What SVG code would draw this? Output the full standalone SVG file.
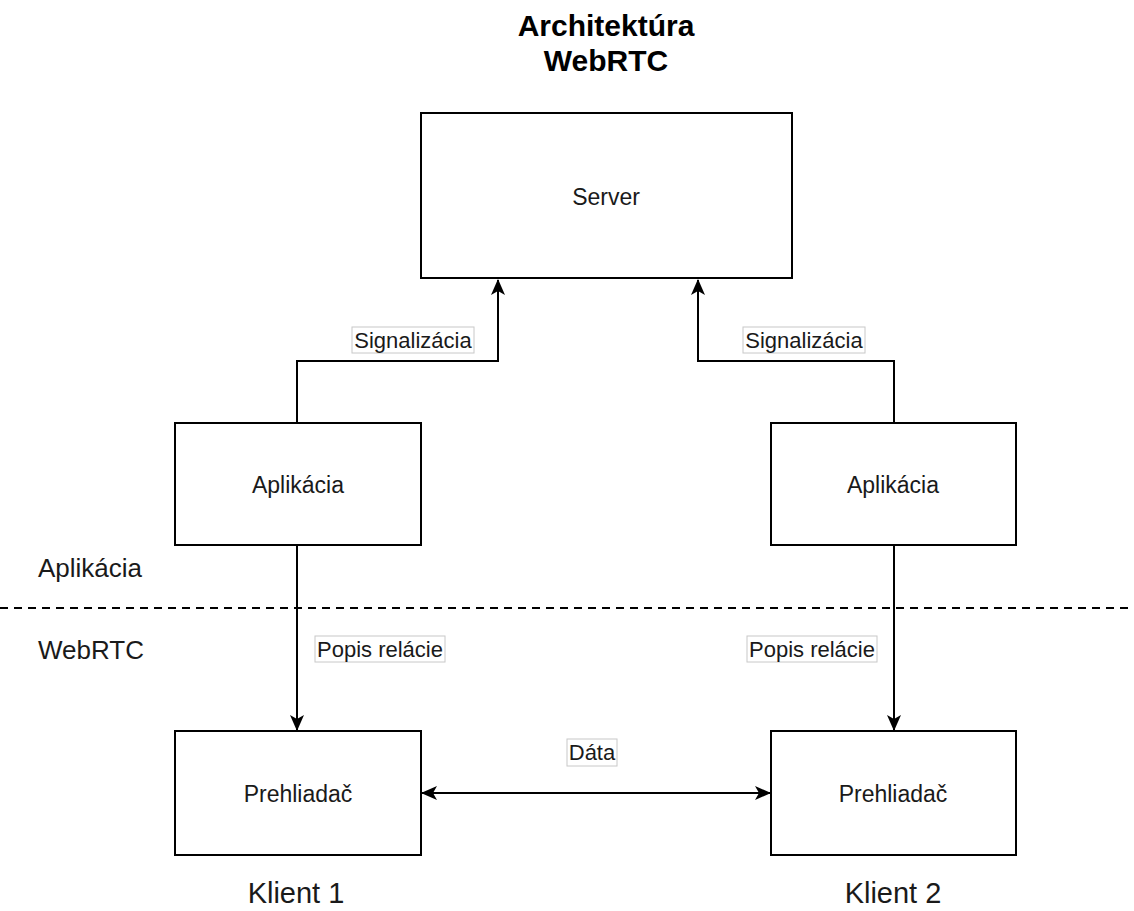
<svg xmlns="http://www.w3.org/2000/svg" width="1134" height="911" viewBox="0 0 1134 911">
  <style>
    .box { fill: #ffffff; stroke: #000000; stroke-width: 2; }
    .lbl { font-family: "Liberation Sans", Arial, sans-serif; font-size: 23px; fill: #1a1a1a; text-anchor: middle; }
    .elbl { font-family: "Liberation Sans", Arial, sans-serif; font-size: 22px; fill: #1a1a1a; text-anchor: middle; }
    .ebg { fill: #ffffff; stroke: #c8c8c8; stroke-width: 1; }
    .side { font-family: "Liberation Sans", Arial, sans-serif; font-size: 26px; fill: #1a1a1a; }
    .client { font-family: "Liberation Sans", Arial, sans-serif; font-size: 29px; fill: #1a1a1a; text-anchor: middle; }
    .title { font-family: "Liberation Sans", Arial, sans-serif; font-size: 30px; font-weight: bold; fill: #000000; text-anchor: middle; }
    .edge { fill: none; stroke: #000000; stroke-width: 2; }
  </style>
  <defs>
    <marker id="arrow" viewBox="0 0 16 14" refX="15" refY="7" markerWidth="16" markerHeight="14" markerUnits="userSpaceOnUse" orient="auto-start-reverse">
      <path d="M0,0 L16,7 L0,14 L4,7 Z" fill="#000000"/>
    </marker>
  </defs>

  <rect width="1134" height="911" fill="#ffffff"/>

  <!-- title -->
  <g id="title">
    <text class="title" x="606" y="36">Architektúra</text>
    <text class="title" x="606" y="71">WebRTC</text>
  </g>

  <!-- layer separator and layer names -->
  <g id="layers">
    <line x1="0" y1="608" x2="1134" y2="608" stroke="#000000" stroke-width="2" stroke-dasharray="8 6"/>
    <text class="side" x="38" y="577">Aplikácia</text>
    <text class="side" x="38" y="659">WebRTC</text>
  </g>

  <!-- connectors -->
  <g id="connectors">
    <path class="edge" d="M297,423 V361 H498 V280" marker-end="url(#arrow)"/>
    <path class="edge" d="M894,423 V361 H698 V280" marker-end="url(#arrow)"/>
    <path class="edge" d="M297,545 V730" marker-end="url(#arrow)"/>
    <path class="edge" d="M894,545 V730" marker-end="url(#arrow)"/>
    <path class="edge" d="M422,793 H770" marker-start="url(#arrow)" marker-end="url(#arrow)"/>

    <rect class="ebg" x="352" y="327" width="122" height="26"/>
    <text class="elbl" x="413" y="348">Signalizácia</text>
    <rect class="ebg" x="743" y="327" width="122" height="26"/>
    <text class="elbl" x="804" y="348">Signalizácia</text>
    <rect class="ebg" x="315" y="636" width="130" height="26"/>
    <text class="elbl" x="380" y="657">Popis relácie</text>
    <rect class="ebg" x="747" y="636" width="130" height="26"/>
    <text class="elbl" x="812" y="657">Popis relácie</text>
    <rect class="ebg" x="567" y="739" width="50" height="27"/>
    <text class="elbl" x="592" y="760">Dáta</text>
  </g>

  <g id="server">
    <rect class="box" x="421" y="113" width="371" height="165"/>
    <text class="lbl" x="606" y="205">Server</text>
  </g>

  <g id="app1">
    <rect class="box" x="175" y="423" width="246" height="122"/>
    <text class="lbl" x="298" y="493">Aplikácia</text>
  </g>

  <g id="app2">
    <rect class="box" x="771" y="423" width="245" height="122"/>
    <text class="lbl" x="893" y="493">Aplikácia</text>
  </g>

  <g id="browser1">
    <rect class="box" x="175" y="731" width="246" height="124"/>
    <text class="lbl" x="298" y="802">Prehliadač</text>
  </g>

  <g id="browser2">
    <rect class="box" x="771" y="731" width="245" height="124"/>
    <text class="lbl" x="893" y="802">Prehliadač</text>
  </g>

  <g id="clients">
    <text class="client" x="296" y="903">Klient 1</text>
    <text class="client" x="893" y="903">Klient 2</text>
  </g>
</svg>
